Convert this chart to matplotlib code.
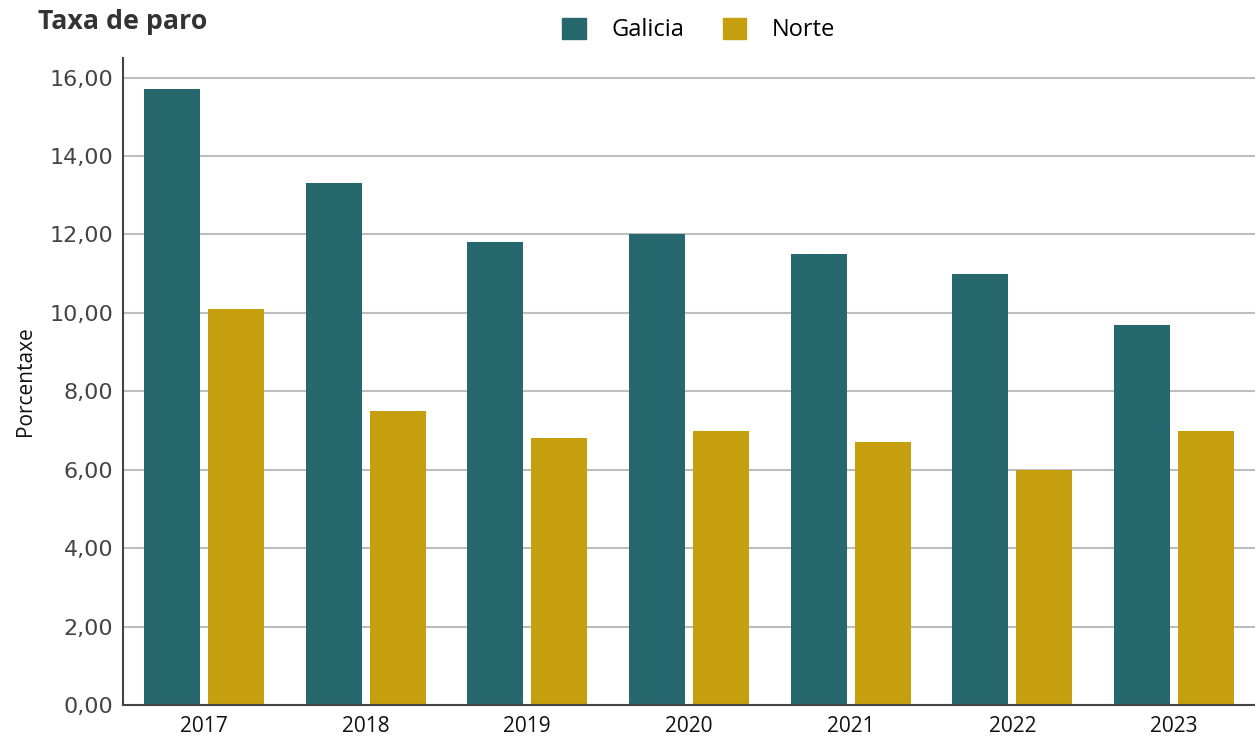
import numpy as np
import matplotlib
matplotlib.use("Agg")
import matplotlib.pyplot as plt
from matplotlib.ticker import FuncFormatter, MultipleLocator
from matplotlib.patches import Patch

years = ["2017", "2018", "2019", "2020", "2021", "2022", "2023"]
galicia = [15.7, 13.3, 11.8, 12.0, 11.5, 11.0, 9.7]
norte = [10.1, 7.5, 6.8, 7.0, 6.7, 6.0, 7.0]

c_gal = "#27686e"
c_nor = "#c69f0e"

plt.rcParams["font.family"] = ["Open Sans", "DejaVu Sans"]

fig = plt.figure(figsize=(12.55, 7.38), dpi=100)
ax = fig.add_axes([123 / 1255, 33 / 738, 1 - 123 / 1255, (705 - 58) / 738])

x = np.arange(len(years))
w = 0.346
off = 0.198
ax.bar(x - off, galicia, w, color=c_gal, zorder=3)
ax.bar(x + off, norte, w, color=c_nor, zorder=3)

ax.set_xlim(-0.5, len(years) - 0.5)
ax.set_ylim(0, 16.5)
ax.yaxis.set_major_locator(MultipleLocator(2))
ax.yaxis.set_major_formatter(FuncFormatter(lambda v, p: f"{v:.2f}".replace(".", ",")))
ax.set_xticks(x)
ax.set_xticklabels(years)
ax.grid(axis="y", color="#bdbdbd", linewidth=1.5, zorder=0)
ax.tick_params(axis="y", length=0, labelsize=16, labelcolor="#444444", pad=7)
ax.tick_params(axis="x", length=0, labelsize=15, labelcolor="#111111", pad=8)
for lab in ax.get_yticklabels():
    lab.set_family("DejaVu Sans")
for s in ["top", "right"]:
    ax.spines[s].set_visible(False)
for s in ["left", "bottom"]:
    ax.spines[s].set_color("#444444")
    ax.spines[s].set_linewidth(1.5)
    ax.spines[s].set_zorder(4)
ax.set_ylabel("Porcentaxe", fontsize=15, color="#111111", labelpad=10)

fig.text(38 / 1255, 1 - 22 / 738, "Taxa de paro", fontsize=19.3, fontweight="bold",
         color="#333333", va="center", ha="left")

handles = [Patch(color=c_gal, label="Galicia"), Patch(color=c_nor, label="Norte")]
fig.legend(handles=handles, loc="center", bbox_to_anchor=(699 / 1255, 1 - 30 / 738),
           ncol=2, frameon=False, fontsize=17, handlelength=1.0, handleheight=1.0,
           handletextpad=1.1, columnspacing=1.6)

fig.savefig("out.png", dpi=100)
